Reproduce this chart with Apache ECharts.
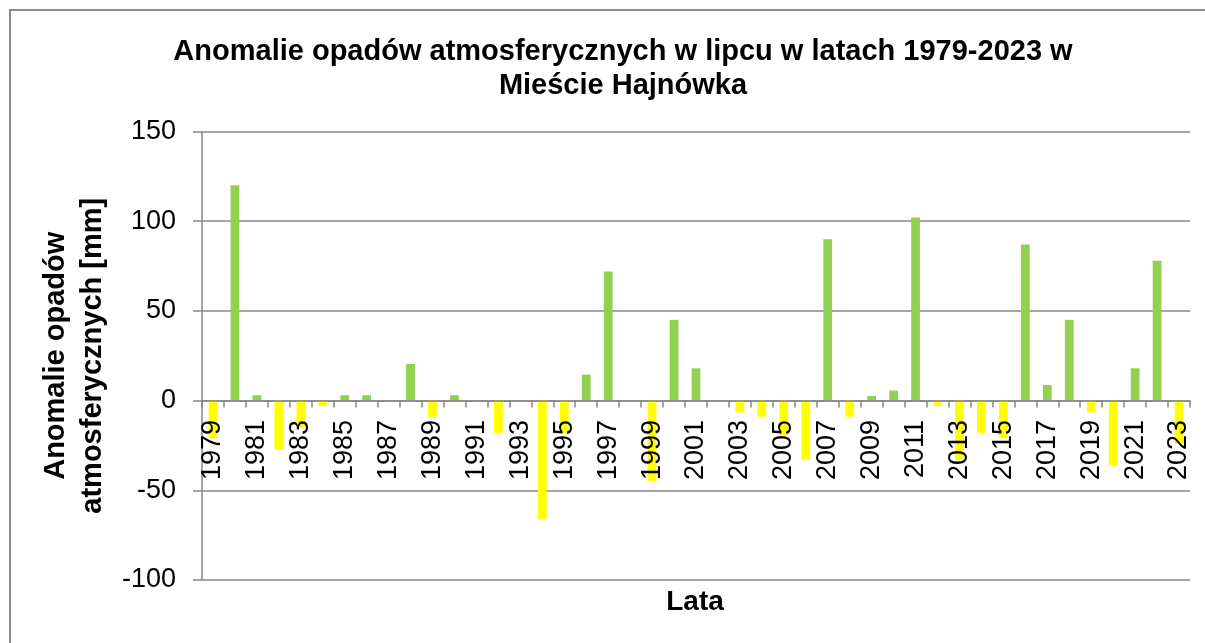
<!DOCTYPE html>
<html lang="pl">

<head>
    <meta charset="UTF-8">
    <script src="https://cdn.jsdelivr.net/npm/echarts@6/dist/echarts.min.js"></script>
    <title>Anomalie opadów - Hajnówka</title>
    <style>
        html,
        body {
            margin: 0;
            width: 100%;
            height: 100%;
            background: #fff;
        }
    </style>
</head>

<body>
    <div id="chart" style="width: 1205px;height: 643px;"></div>
    <script>
        var years = [];
        for (var y = 1979; y <= 2023; y++) years.push(String(y));

        // anomalie [mm]
        var anomalies = [
            -21, 120, 3, -27, -15, -3, 3, 3, 0, 20.5,
            -9, 3, 0, -18, 0, -66, -18, 14.5, 72, 0,
            -45, 45, 18, 0, -6.5, -9, -19.5, -33, 90, -9,
            2.6, 5.6, 102, -3, -33, -18, -21, 87, 8.7, 45,
            -6.5, -36, 18, 78, -24
        ];

        var yTicks = { min: -100, max: 150, interval: 50 };

        var POS_COLOR = '#92D050';
        var NEG_COLOR = '#FFFF00';
        var GRID_COLOR = '#878787';
        var FONT = '"Liberation Sans", Arial, sans-serif';

        var chart = echarts.init(document.getElementById('chart'));

        var option = {
            animation: false,
            backgroundColor: '#fff',
            title: {
                text: 'Anomalie opadów atmosferycznych w lipcu w latach 1979-2023 w\nMieście Hajnówka',
                left: 618,
                top: 30,
                textAlign: 'center',
                textStyle: {
                    fontFamily: FONT,
                    fontSize: 29,
                    fontWeight: 'bold',
                    color: '#000',
                    lineHeight: 34
                }
            },
            graphic: [
                {
                    type: 'rect',
                    shape: { x: 10, y: 10, width: 1300, height: 800 },
                    style: { fill: null, stroke: '#8c8c8c', lineWidth: 2 },
                    silent: true
                },
                {
                    type: 'text',
                    x: 695,
                    y: 602,
                    style: {
                        text: 'Lata',
                        font: 'bold 28px ' + FONT,
                        fill: '#000',
                        align: 'center',
                        verticalAlign: 'middle'
                    }
                }
            ],
            grid: {
                left: 202,
                right: 15,
                top: 131.5,
                bottom: 63
            },
            xAxis: [
                {
                    // linia zera z podziałką
                    type: 'category',
                    data: years,
                    z: 5,
                    axisLine: { onZero: true, lineStyle: { color: GRID_COLOR, width: 1.5 } },
                    axisTick: {
                        show: true,
                        interval: 0,
                        length: 7,
                        lineStyle: { color: GRID_COLOR, width: 1.5 }
                    },
                    axisLabel: { show: false }
                },
                {
                    // etykiety lat przy linii zera
                    type: 'category',
                    data: years,
                    position: 'bottom',
                    z: 6,
                    axisLine: { show: false, onZero: false },
                    axisTick: { show: false },
                    axisLabel: {
                        interval: 1,
                        rotate: 90,
                        margin: -160,
                        fontFamily: FONT,
                        fontSize: 27,
                        color: '#000'
                    }
                }
            ],
            yAxis: {
                type: 'value',
                min: yTicks.min,
                max: yTicks.max,
                interval: yTicks.interval,
                name: 'Anomalie opadów\natmosferycznych [mm]',
                nameLocation: 'middle',
                nameRotate: 90,
                nameGap: 87,
                nameTextStyle: {
                    fontFamily: FONT,
                    fontSize: 29,
                    fontWeight: 'bold',
                    color: '#000',
                    lineHeight: 37
                },
                axisLine: { show: true, lineStyle: { color: GRID_COLOR, width: 1.5 } },
                axisTick: { show: true, length: 9, lineStyle: { color: GRID_COLOR, width: 1.5 } },
                axisLabel: {
                    margin: 26,
                    fontFamily: FONT,
                    fontSize: 27,
                    color: '#000'
                },
                splitLine: { lineStyle: { color: GRID_COLOR, width: 1.5 } }
            },
            series: [{
                type: 'bar',
                barWidth: '40%',
                data: anomalies.map(function (v) {
                    return {
                        value: v,
                        itemStyle: { color: v >= 0 ? POS_COLOR : NEG_COLOR }
                    };
                })
            }]
        };
        chart.setOption(option);
    </script>
</body>

</html>
